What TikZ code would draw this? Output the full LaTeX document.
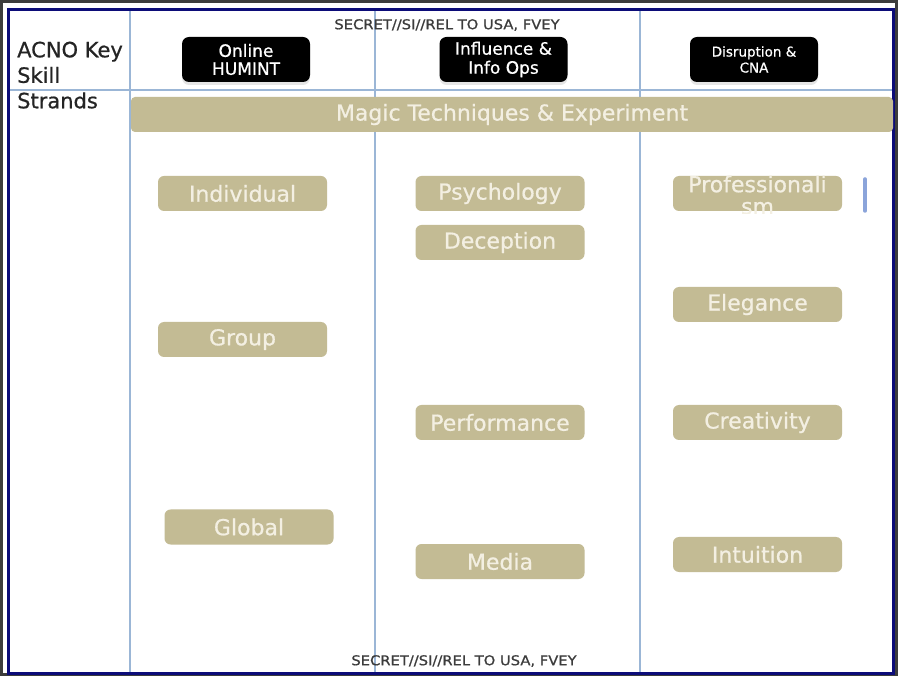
\documentclass[tikz,border=0pt]{standalone}
\usepackage{fontspec}
\setmainfont[FakeBold=0.7]{DejaVu Sans}
\newfontfamily\secfont[FakeStretch=1.09,FakeBold=0.9]{DejaVu Sans}
\usetikzlibrary{shadows}
\definecolor{strandtan}{RGB}{195,187,148}
\definecolor{strandtext}{RGB}{243,239,226}
\definecolor{gridblue}{RGB}{155,182,214}
\definecolor{framenavy}{RGB}{12,12,120}
\definecolor{framegray}{RGB}{60,60,60}
\tikzset{
  strand/.style={fill=strandtan,rounded corners=6pt,minimum width=169pt,minimum height=35pt,inner sep=0pt,text=strandtext,font=\fontsize{22}{22}\selectfont},
  mission/.style={fill=black,rounded corners=7pt,minimum width=128pt,minimum height=45pt,inner sep=0pt,text=white,align=center,
    drop shadow={shadow xshift=0pt,shadow yshift=-3pt,opacity=0.2,fill=gray}},
  gridline/.style={gridblue,line width=1.2pt},
  classif/.style={text=framegray,inner sep=0pt,font=\secfont\fontsize{13.5}{14}\selectfont},
}
\begin{document}
\begin{tikzpicture}[x=1pt,y=-1pt]
        \useasboundingbox(0,0)rectangle(898,676);
        % Frame
        \fill[white](0,0)rectangle(898,676);
        \draw[framegray,line width=3pt](1.5,1.5)rectangle(896.5,674.5);
        \draw[framenavy,line width=2.5pt](8.5,9.5)rectangle(893.5,673.5);
        % Grid
        \draw[gridline](10,90)--(892,90);
        \draw[gridline](130,11)--(130,672);
        \draw[gridline](375,11)--(375,672);
        \draw[gridline](640,11)--(640,672);
        % Classification
        \node[classif](sectop)at(447,25){SECRET//SI//REL TO USA, FVEY};
        \node[classif](secbot)at(464,661){SECRET//SI//REL TO USA, FVEY};
        % Row label
        \node[anchor=north west,inner sep=0pt,align=left,text=framegray!60!black,font=\fontsize{21}{25.5}\selectfont](strands)at(17,41.5){ACNO Key\\Skill\\Strands};
        % Mission headers
        \node[mission,font=\fontsize{17}{18}\selectfont](humint)at(246,59.5){Online\\HUMINT};
        \node[mission,font=\fontsize{17}{19}\selectfont](infoops)at(503.5,59.5){Influence \&\\Info Ops};
        \node[mission,font=\fontsize{13.5}{16}\selectfont](cna)at(754,59.5){Disruption \&\\CNA};
        % Banner
        \node[strand,rounded corners=4pt,minimum width=762pt](magic)at(512,114.5){Magic Techniques \& Experiment};
        % Online HUMINT strands
        \node[strand](individual)at(242.5,193.5){Individual};
        \node[strand](group)at(242.5,339.5){Group};
        \node[strand](global)at(249,527){Global};
        % Influence strands
        \node[strand](psychology)at(500,193.5){Psychology};
        \node[strand](deception)at(500,242.5){Deception};
        \node[strand](performance)at(500,422.5){Performance};
        \node[strand](media)at(500,561.5){Media};
        % Disruption strands
        \node[strand](prof)at(757.5,193.5){};
        \begin{scope}
          \clip(673,174)rectangle(842,213.5);
          \node[anchor=north,text=strandtext,inner sep=0pt,align=center,font=\fontsize{22}{22}\selectfont](proftext)at(757.5,175.3){Professionali\\sm};
        \end{scope}
        \node[strand](elegance)at(757.5,304.5){Elegance};
        \node[strand](creativity)at(757.5,422.5){Creativity};
        \node[strand](intuition)at(757.5,554.5){Intuition};
        % Cursor bar
        \draw[gridblue!90!blue,line width=3.5pt,line cap=round](865,179)--(865,211);
    \end{tikzpicture}
\end{document}
